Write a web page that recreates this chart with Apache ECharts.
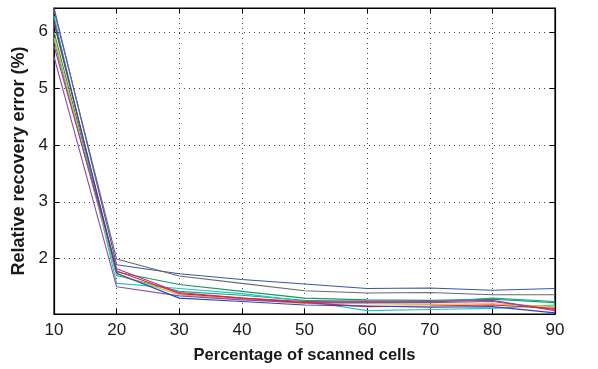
<!DOCTYPE html>
<html>
<head>
<meta charset="utf-8">
<script src="https://cdn.jsdelivr.net/npm/echarts@6/dist/echarts.min.js"></script>
<style>html,body{margin:0;padding:0;background:#fff;}#c{width:598px;height:369px;}</style>
</head>
<body>
<div id="c"></div>
<script>
var xValues = [10, 20, 30, 40, 50, 60, 70, 80, 90];
var xTicks = [10, 20, 30, 40, 50, 60, 70, 80, 90];
var yTicks = [2, 3, 4, 5, 6];
var lineDarkBlue = [6.42, 1.89, 1.73, 1.63, 1.55, 1.47, 1.48, 1.44, 1.47];
var lineGray     = [6.38, 1.99, 1.69, 1.56, 1.43, 1.39, 1.40, 1.36, 1.36];
var lineGreen    = [6.00, 1.76, 1.54, 1.42, 1.30, 1.27, 1.26, 1.28, 1.22];
var lineCyan     = [6.28, 1.56, 1.47, 1.38, 1.25, 1.08, 1.10, 1.12, 1.18];
var lineRed      = [6.15, 1.78, 1.38, 1.30, 1.22, 1.15, 1.16, 1.18, 1.12];
var lineMagenta  = [5.75, 1.82, 1.40, 1.30, 1.24, 1.25, 1.24, 1.26, 1.08];
var lineYellow   = [5.90, 1.72, 1.36, 1.28, 1.20, 1.20, 1.19, 1.20, 1.15];
var linePurple   = [5.56, 1.50, 1.34, 1.27, 1.22, 1.22, 1.22, 1.24, 1.10];
var lineBlue     = [6.20, 1.74, 1.30, 1.24, 1.18, 1.16, 1.14, 1.15, 1.04];
var lineTeal     = [5.85, 1.70, 1.42, 1.35, 1.26, 1.24, 1.23, 1.30, 1.24];

var seriesDefs = [
  {name: 'dark blue', data: lineDarkBlue, color: '#3a56a8'},
  {name: 'gray', data: lineGray, color: '#6a6a6a'},
  {name: 'green', data: lineGreen, color: '#159a5c'},
  {name: 'teal', data: lineTeal, color: '#1fa58a'},
  {name: 'cyan', data: lineCyan, color: '#22c4c4'},
  {name: 'yellow', data: lineYellow, color: '#c9c21e'},
  {name: 'magenta', data: lineMagenta, color: '#b3308f'},
  {name: 'purple', data: linePurple, color: '#8a4cb5'},
  {name: 'red', data: lineRed, color: '#e8202c'},
  {name: 'blue', data: lineBlue, color: '#2a44c4'}
];

function pairs(arr) { return xValues.map(function (x, i) { return [x, arr[i]]; }); }

var yMin = 1.02, yMax = 6.42;
var fontFam = '"Liberation Sans", Arial, Helvetica, sans-serif';
var labelFmt = function (v) { return yTicks.indexOf(Math.round(v * 1000) / 1000) >= 0 ? String(v) : ''; };

var chart = echarts.init(document.getElementById('c'), null, {renderer: 'canvas'});
chart.setOption({
  animation: false,
  backgroundColor: '#fff',
  grid: {left: 54, right: 43, top: 8, bottom: 54, show: true, borderColor: '#000', borderWidth: 1.2, backgroundColor: 'transparent'},
  xAxis: [{
    type: 'value', min: 10, max: 90, interval: 10, position: 'bottom',
    name: 'Percentage of scanned cells', nameLocation: 'middle', nameGap: 33,
    nameTextStyle: {fontFamily: fontFam, fontSize: 16.5, fontWeight: 'bold', color: '#1a1a1a'},
    axisLine: {lineStyle: {color: '#000', width: 1.2}},
    axisTick: {inside: true, length: 5, lineStyle: {color: '#000'}},
    axisLabel: {fontFamily: fontFam, fontSize: 17, color: '#1a1a1a', margin: 8},
    splitLine: {show: true, lineStyle: {color: '#444', type: [1, 4], width: 1}}
  }, {
    type: 'value', min: 10, max: 90, interval: 10, position: 'top',
    axisLine: {show: true, lineStyle: {color: '#000', width: 1.2}},
    axisTick: {inside: true, length: 5, lineStyle: {color: '#000'}},
    axisLabel: {show: false}, splitLine: {show: false}
  }],
  yAxis: [{
    type: 'value', min: yMin, max: yMax, splitNumber: 5, position: 'left',
    name: 'Relative recovery error (%)', nameLocation: 'middle', nameGap: 23,
    nameTextStyle: {fontFamily: fontFam, fontSize: 18, fontWeight: 'bold', color: '#1a1a1a'},
    axisLine: {show: true, lineStyle: {color: '#000', width: 1.2}},
    axisTick: {inside: true, length: 5, lineStyle: {color: '#000'}},
    axisLabel: {fontFamily: fontFam, fontSize: 17, color: '#1a1a1a', margin: 6, showMinLabel: false, showMaxLabel: false, formatter: labelFmt},
    splitLine: {show: true, lineStyle: {color: '#444', type: [1, 4], width: 1}}
  }, {
    type: 'value', min: yMin, max: yMax, splitNumber: 5, position: 'right',
    axisLine: {show: true, lineStyle: {color: '#000', width: 1.2}},
    axisTick: {inside: true, length: 5, lineStyle: {color: '#000'}},
    axisLabel: {show: false}, splitLine: {show: false}
  }],
  series: seriesDefs.map(function (s) {
    return {
      name: s.name, type: 'line', xAxisIndex: 0, yAxisIndex: 0,
      data: pairs(s.data), symbol: 'none', smooth: false,
      lineStyle: {color: s.color, width: 1.1}, itemStyle: {color: s.color}
    };
  })
});
</script>
</body>
</html>
